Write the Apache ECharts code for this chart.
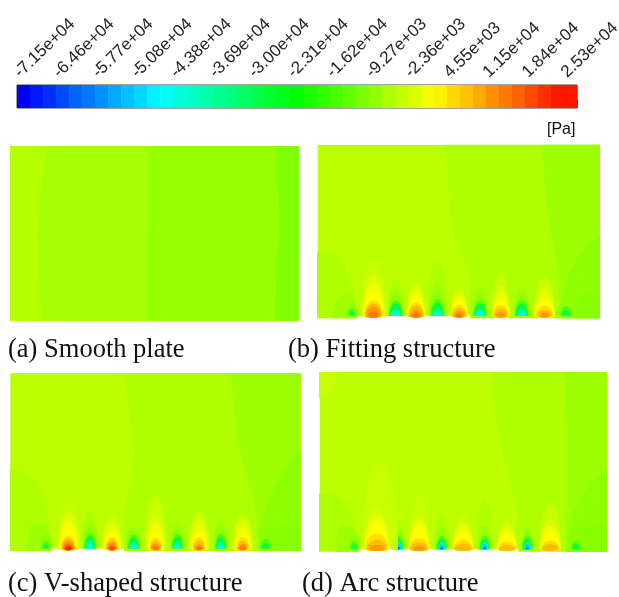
<!DOCTYPE html>
<html><head><meta charset="utf-8">
<style>html,body{margin:0;padding:0;background:#fff}#c{width:619px;height:597px;filter:blur(0.45px)}</style>
<script src="https://cdn.jsdelivr.net/npm/echarts@6/dist/echarts.min.js"></script>
</head><body><div id="c"></div>
<script>
// ---------- colour bar ----------
const tickLabels = ['-7.15e+04','-6.46e+04','-5.77e+04','-5.08e+04','-4.38e+04','-3.69e+04','-3.00e+04','-2.31e+04','-1.62e+04','-9.27e+03','-2.36e+03','4.55e+03','1.15e+04','1.84e+04','2.53e+04'];
const barHues = [240,234,229,223,217,211,206,200,194,189,183,177,171,166,160,154,149,143,137,131,126,120,114,109,103,97,91,86,80,74,69,63,57,51,46,40,34,29,23,17,11,6,5];
const captions = ['(a) Smooth plate','(b) Fitting structure','(c) V-shaped structure','(d) Arc structure'];
const unitLabel = '[Pa]';

// ---------- contour band colours ----------
const fieldColors = {
  bb:'#bcff00', aa:'#aeff00', a6:'#a6ff00', b4:'#b4ff00', a95:'#96ff00', a80:'#80ff00',
  p95:'#9eff00', p80:'#8eff00', p7c:'#88ff00',
  p55:'#50ff00', g0:'#00ff44', gc:'#00ffaa', cy:'#00ffe6', c0:'#00ccff', bl:'#0066ff',
  c8:'#c8ff00', d8:'#d8ff00', ee:'#eeff00', ff:'#ffff00', dd:'#ffdd00', bc:'#ffbb00', o9:'#ff9900', o7:'#ff7700', o4:'#ff4400', r2:'#ff2000'
};

// Contour regions: [colour, [[x,y],...]] in panel units (about 3 per pixel)
const regionsA = [
  ['a6',[[0,0],[862,0],[862,525],[0,525]]],
  ['b4',[[-40,-40],[92,-40],[92,40],[84,160],[80,250],[90,380],[108,525],[108,600],[-40,600]]],
  ['a95',[[412,-40],[412,60],[414,260],[416,525],[416,600],[900,600],[900,-40]]],
  ['a80',[[794,-40],[794,40],[807,260],[801,525],[801,600],[900,600],[900,-40]]]
];
const regionsB = [
  ['bb',[[0,0],[845,0],[845,513],[0,513]]],
  ['aa',[[384,560],[384,513],[392,377],[402,257],[422,207],[447,157],[455,107],[457,0],[457,-40],[900,-40],[900,560]]],
  ['p95',[[675,560],[675,513],[682,377],[697,257],[712,187],[722,107],[729,0],[729,-40],[900,-40],[900,560]]],
  ['p80',[[900,240],[845,237],[817,220],[797,197],[775,165],[757,137],[745,100],[735,57],[730,0],[730,-40],[900,-40]]],
  ['p7c',[[900,72],[845,70],[810,67],[790,60],[770,30],[765,0],[765,-40],[900,-40]]],
  ['aa',[[-40,190],[0,189],[30,187],[57,177],[80,150],[97,107],[107,70],[112,40],[117,0],[117,-40],[-40,-40]]],
  ['p95',[[40,-40],[40,0],[48,25],[60,52],[80,68],[95,64],[107,50],[115,30],[120,0],[120,-40]]]
];
const regionsC = [
  ['bb',[[0,0],[870,0],[870,526],[0,526]]],
  ['aa',[[342,570],[342,526],[354,430],[369,300],[364,210],[349,150],[341,80],[341,0],[341,-40],[920,-40],[920,570]]],
  ['p95',[[661,570],[661,526],[679,330],[709,210],[734,130],[744,0],[744,-40],[920,-40],[920,570]]],
  ['p80',[[920,305],[870,300],[845,270],[819,230],[792,180],[769,130],[751,70],[744,0],[744,-40],[920,-40]]],
  ['p7c',[[920,66],[870,65],[825,68],[799,70],[780,55],[769,40],[765,0],[765,-40],[920,-40]]],
  ['aa',[[-40,236],[0,235],[32,232],[59,220],[82,195],[99,160],[112,110],[119,70],[124,0],[124,-40],[-40,-40]]],
  ['p95',[[47,-40],[47,0],[52,35],[59,60],[70,72],[84,75],[98,70],[109,60],[119,40],[124,20],[126,-40]]]
];
const regionsD = [
  ['bb',[[0,0],[860,0],[860,531],[0,531]]],
  ['c8',[[-40,580],[-40,450],[0,452],[18,458],[31,467],[43,484],[51,502],[59,531],[60,580]]],
  ['aa',[[518,580],[518,531],[526,400],[541,310],[571,210],[591,120],[596,0],[596,-40],[910,-40],[910,580]]],
  ['p95',[[736,580],[736,531],[741,250],[739,130],[736,0],[736,-40],[910,-40],[910,580]]],
  ['p80',[[910,240],[860,237],[835,220],[811,200],[785,155],[761,110],[748,50],[741,0],[741,-40],[910,-40]]],
  ['p7c',[[910,73],[860,72],[800,68],[771,60],[760,0],[760,-40],[910,-40]]],
  ['aa',[[-40,168],[0,167],[28,165],[51,160],[73,138],[91,110],[103,78],[111,50],[119,0],[119,-40],[-40,-40]]],
  ['p95',[[46,-40],[46,0],[50,35],[56,60],[68,70],[81,72],[95,66],[106,55],[114,32],[119,10],[120,-40]]]
];

// Bumps along the wall: [centre, dip below wall, [[colour, height, half width], ...]]
const bumpsB = [
  [102,0,[['p80',35,22],['p55',22,13],['g0',13,7],['gc',5,3]]],
  [234,0,[['aa',109,25],['p95',82,24],['p80',62,22],['p55',47,20],['g0',37,18],['gc',20,15],['cy',10,13]]],
  [359,0,[['aa',165,30],['p95',100,27],['p80',70,24],['p55',50,21],['g0',38,18],['gc',20,15],['cy',10,13]]],
  [487,0,[['aa',98,28],['p95',80,26],['p80',60,23],['p55',45,20],['g0',35,18],['gc',20,15],['cy',10,13]]],
  [612,0,[['aa',108,25],['p95',85,24],['p80',62,22],['p55',47,20],['g0',36,18],['gc',20,15],['cy',10,13]]],
  [745,0,[['p80',40,32],['p55',28,18],['g0',16,11],['gc',6,5]]],
  [167,6,[['c8',165,38],['d8',125,35],['ee',99,33],['ff',72,30],['dd',47,27],['bc',37,25],['o9',26,22],['o7',12,15]]],
  [295,6,[['c8',107,28],['d8',90,27],['ee',77,26],['ff',60,25],['dd',40,24],['bc',30,22],['o9',18,18],['o7',9,11]]],
  [424,6,[['c8',87,26],['d8',75,25],['ee',60,25],['ff',48,24],['dd',32,23],['bc',24,20],['o9',14,15],['o7',7,9]]],
  [549,6,[['c8',127,28],['d8',90,27],['ee',70,26],['ff',50,25],['dd',32,24],['bc',22,20],['o9',12,14]]],
  [680,6,[['c8',117,32],['d8',85,31],['ee',62,30],['ff',45,28],['dd',30,26],['bc',19,22],['o9',9,14]]]
];
const bumpsC = [
  [107,0,[['p80',40,20],['p55',22,12],['g0',12,7],['gc',4,3]]],
  [239,0,[['aa',110,25],['p95',85,24],['p80',62,21],['p55',47,18],['g0',37,15],['gc',24,12],['cy',14,9]]],
  [370,0,[['aa',82,28],['p95',68,25],['p80',52,22],['p55',42,18],['g0',32,15],['gc',20,12],['cy',10,9]]],
  [501,0,[['aa',100,28],['p95',78,24],['p80',58,21],['p55',44,17],['g0',34,14],['gc',22,11],['cy',11,8]]],
  [631,0,[['aa',115,25],['p95',85,22],['p80',60,20],['p55',44,17],['g0',34,14],['gc',22,11],['cy',11,8]]],
  [766,0,[['p80',35,25],['p55',28,17],['g0',15,11]]],
  [174,6,[['c8',137,35],['d8',108,33],['ee',85,30],['ff',60,27],['dd',38,22],['bc',30,20],['o9',22,17],['o7',15,14],['o4',9,10],['r2',5,7]]],
  [305,6,[['c8',100,30],['d8',85,29],['ee',68,27],['ff',50,24],['dd',34,19],['bc',26,17],['o9',18,15],['o7',12,12],['o4',6,8]]],
  [436,6,[['c8',160,32],['d8',100,30],['ee',75,27],['ff',50,23],['dd',32,18],['bc',22,16],['o9',14,13],['o7',7,9]]],
  [566,6,[['c8',113,32],['d8',90,30],['ee',68,26],['ff',48,23],['dd',32,19],['bc',22,16],['o9',13,13],['o7',6,8]]],
  [697,6,[['c8',103,32],['d8',88,30],['ee',68,26],['ff',50,23],['dd',33,19],['bc',23,16],['o9',14,13],['o7',7,9]]]
];
const bumpsD = [
  [103,0,[['p80',40,20],['p55',24,12],['g0',14,7],['gc',6,4]]],
  [236,0,[['aa',82,22],['p95',65,20],['p80',50,18],['p55',40,16],['g0',30,14],['gc',22,11],['c0',14,8],['bl',6,4]]],
  [366,0,[['aa',107,24],['p95',68,20],['p80',50,18],['p55',40,16],['g0',30,14],['gc',22,11],['c0',14,8],['bl',6,4]]],
  [495,0,[['aa',147,26],['p95',72,22],['p80',50,18],['p55',40,16],['g0',30,14],['gc',22,11],['c0',14,8],['bl',6,4]]],
  [623,0,[['aa',87,22],['p95',65,20],['p80',50,18],['p55',40,16],['g0',30,14],['gc',22,11],['c0',14,8],['bl',6,4]]],
  [769,0,[['p80',42,27],['p55',27,15],['g0',15,10]]],
  [181,0,[['c8',257,54]]],
  [171,6,[['d8',119,38],['ee',100,36],['ff',80,35],['dd',47,34],['bc',27,30],['o9',12,22]]],
  [298,6,[['c8',169,30],['d8',97,30],['ee',85,30],['ff',70,29],['dd',32,29],['bc',20,26],['o9',10,18]]],
  [430,6,[['c8',105,30],['d8',85,30],['ee',70,30],['ff',50,30],['dd',27,29],['bc',17,25]]],
  [561,6,[['c8',87,30],['d8',75,29],['ee',60,29],['ff',45,29],['dd',22,27],['bc',13,22]]],
  [691,6,[['c8',137,33],['d8',88,32],['ee',70,31],['ff',48,30],['dd',25,28],['bc',14,24]]]
];

// ---------- layout ----------
const panelRegions = [regionsA, regionsB, regionsC, regionsD];
const panelBumps = [[], bumpsB, bumpsC, bumpsD];
const panelBox = [
  {left:10.3, top:146, w:862, h:525},
  {left:317.7, top:144.7, w:845, h:513},
  {left:10.3, top:373, w:870, h:526},
  {left:319.7, top:372, w:860, h:531}
];
const yFloor = -8;

function domePoints(cx, dip, h, hw) {
  const pts = [], n = 28;
  for (let i = 0; i <= n; i++) { const t = Math.PI * i / n; pts.push([cx + hw * Math.cos(t), h * Math.sin(t)]); }
  if (dip) for (let i = 1; i < n; i++) { const t = Math.PI * i / n; pts.push([cx - hw * Math.cos(t), -dip * Math.sin(t)]); }
  else pts.push([cx - hw, -0.5], [cx + hw, -0.5]);
  return pts;
}

const grids = [], xAxes = [], yAxes = [], series = [];
// colour bar: 43 cells, a labelled tick every third cell
grids.push({left:17, top:85, width:560, height:23, outerBoundsMode:'none', show:true, borderColor:'#444', borderWidth:1, backgroundColor:'transparent'});
xAxes.push({gridIndex:0, type:'value', position:'top', min:0, max:43, interval:3,
  axisLine:{show:false}, splitLine:{show:false},
  axisTick:{show:true, length:8, lineStyle:{color:'#444', width:1}},
  minorTick:{show:true, splitNumber:3, length:3.5, lineStyle:{color:'#555', width:1}},
  axisLabel:{show:true, rotate:44, margin:10, fontSize:17, fontFamily:'Liberation Sans', color:'#222',
    showMinLabel:true, showMaxLabel:false, hideOverlap:false,
    formatter:v=>(v % 3 === 0 ? tickLabels[v / 3] : '')}});
yAxes.push({gridIndex:0, type:'value', min:0, max:1, show:false});
series.push({type:'custom', xAxisIndex:0, yAxisIndex:0, silent:true, z:1,
  data:barHues.map((h,i)=>[i,1]),
  renderItem:(p,api)=>{
    const i = api.value(0), a = api.coord([i,1]), b = api.coord([i+1,0]);
    return {type:'rect', shape:{x:a[0],y:a[1],width:b[0]-a[0]+0.5,height:b[1]-a[1]},
      style:{fill:`hsl(${barHues[i]},100%,50%)`}};
  }});

panelRegions.forEach((regions, k) => {
  const box = panelBox[k], idx = k + 1, floor = k === 0 ? 0 : yFloor;
  grids.push({left:box.left, top:box.top, width:box.w/3, height:(box.h-floor)/3, outerBoundsMode:'none'});
  xAxes.push({gridIndex:idx, type:'value', min:0, max:box.w, show:k===0, position:'top',
    axisLine:{show:true,onZero:false,lineStyle:{color:'#b5b5b5',width:1}}, axisTick:{show:false}, axisLabel:{show:false}, splitLine:{show:false}});
  yAxes.push({gridIndex:idx, type:'value', min:floor, max:box.h, show:k===0,
    axisLine:{show:true,onZero:false,lineStyle:{color:'#a8b878',width:1}}, axisTick:{show:false}, axisLabel:{show:false}, splitLine:{show:false}});
  const shapes = regions.map(r => ({c:r[0], pts:r[1]}));
  panelBumps[k].forEach(b => b[2].forEach(l => shapes.push({c:l[0], pts:domePoints(b[0], b[1], l[1], l[2])})));
  series.push({type:'custom', xAxisIndex:idx, yAxisIndex:idx, silent:true, clip:true, progressive:0, z:2,
    data:shapes.map((s,i)=>[i]),
    renderItem:(p,api)=>{
      const s = shapes[p.dataIndex];
      return {type:'polygon', shape:{points:s.pts.map(q=>api.coord(q))}, style:{fill:fieldColors[s.c]}};
    }});
});

const cap = (text,left,top,size,font)=>({text, left, top, padding:0,
  textStyle:{fontFamily:font, fontSize:size, fontWeight:'normal', color:'#111'}});
const option = {
  animation:false, backgroundColor:'#fff',
  title:[
    cap(captions[0],8,337,26.5,'Liberation Serif'),
    cap(captions[1],288,337,26.5,'Liberation Serif'),
    cap(captions[2],8,571,26.5,'Liberation Serif'),
    cap(captions[3],302,571,26.5,'Liberation Serif'),
    cap(unitLabel,547,122,16,'Liberation Sans')
  ],
  grid:grids, xAxis:xAxes, yAxis:yAxes, series
};
echarts.init(document.getElementById('c'),null,{renderer:'canvas'}).setOption(option);
</script></body></html>
